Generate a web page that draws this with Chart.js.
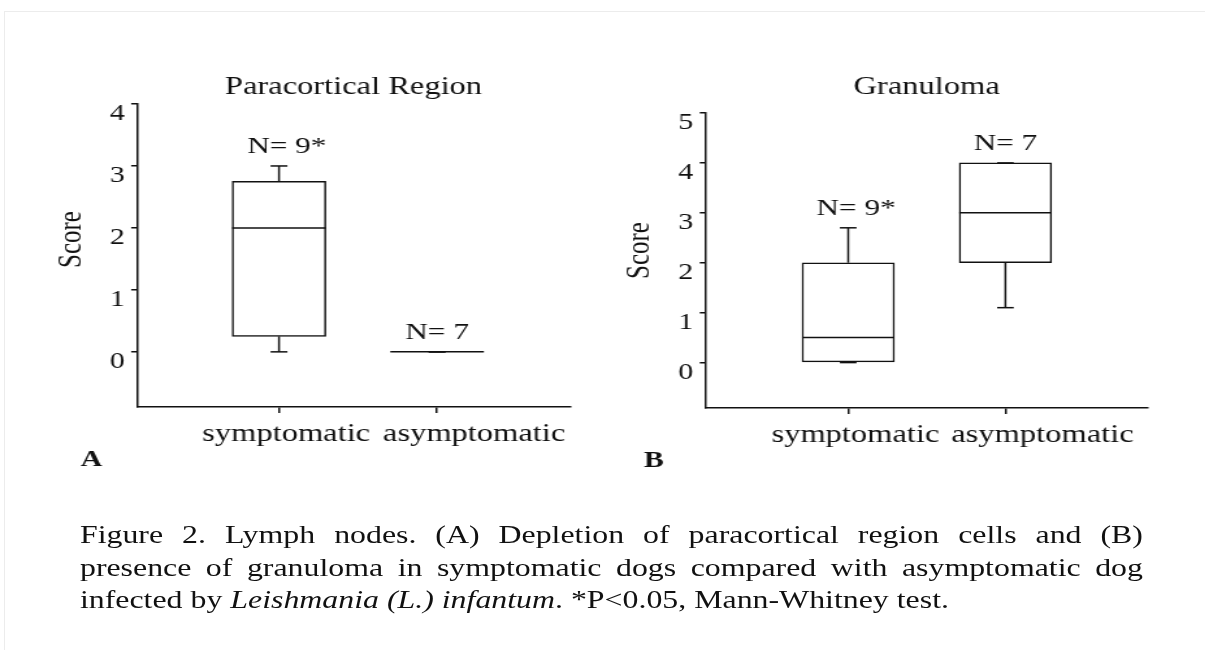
<!DOCTYPE html>
<html>
<head>
<meta charset="utf-8">
<title>Figure 2 - Lymph nodes</title>
<script src="https://cdn.jsdelivr.net/npm/chart.js@4.4.1/dist/chart.umd.min.js"></script>
<style>
  html, body { margin: 0; padding: 0; background: #fff; overflow: hidden; }
  .cadre { position: absolute; left: 4px; top: 11px; right: 0; bottom: 0; border-top: 1px solid #ececec; border-left: 1px solid #ececec; }
  /* the original figure is stretched horizontally, so the whole thing is drawn narrow then widened */
  .figure { position: absolute; left: 0; top: 0; width: 920px; height: 650px; transform: scaleX(1.3); transform-origin: 0 0; }
  .figure canvas { position: absolute; top: 0; }
  #panelA { left: 0; }
  #panelB { left: 480px; }
  .legende { position: absolute; left: 61.5px; top: 519px; width: 817.7px; font-family: 'Liberation Serif', 'Times New Roman', serif; font-size: 24.5px; line-height: 32.5px; color: #111; }
  .legende .just { text-align: justify; text-align-last: justify; }
</style>
</head>
<body>
<div class="cadre"></div>
<div class="figure">
  <canvas id="panelA" width="480" height="500"></canvas>
  <canvas id="panelB" width="440" height="500"></canvas>
  <div class="legende">
    <div class="just">Figure 2. Lymph nodes. (A) Depletion of paracortical region cells and (B)</div>
    <div class="just">presence of granuloma in symptomatic dogs compared with asymptomatic dog</div>
    <div>infected by <i>Leishmania (L.) infantum</i>. *P&lt;0.05, Mann-Whitney test.</div>
  </div>
</div>

<script>
const INK = '#111';
const SERIF = "'Liberation Serif', 'Times New Roman', serif";

// groups
const categories = ['symptomatic', 'asymptomatic'];
const groupN = [9, 7];
const significant = [true, false];

// (A) paracortical region score
const paraMin = [0, 0];
const paraQ1 = [0.25, 0];
const paraMedian = [2, 0];
const paraQ3 = [2.75, 0];
const paraMax = [3, 0];
const paraTicks = [0, 1, 2, 3, 4];

// (B) granuloma score
const granMin = [0, 1.1];
const granQ1 = [0, 2];
const granMedian = [0.5, 3];
const granQ3 = [2, 4];
const granMax = [2.7, 4];
const granTicks = [0, 1, 2, 3, 4, 5];

// the category labels sit a bit right of their tick in the original
const LABEL_SHIFT = [5.5, 28.5];

function segment(ctx, x1, y1, x2, y2) {
    ctx.beginPath();
    ctx.moveTo(x1, y1);
    ctx.lineTo(x2, y2);
    ctx.stroke();
}

/**
 * Whiskers, medians and the texts around the plot (N, groups, Score, letter)
 */
function boxExtras(panel) {
    return {
        id: 'boxExtras',
        afterDatasetsDraw(chart) {
            const ctx = chart.ctx;
            const ys = chart.scales.y;
            const bars = chart.getDatasetMeta(0).data;
            ctx.save();
            ctx.strokeStyle = INK;
            ctx.lineWidth = 1.5;
            bars.forEach((bar, i) => {
                const half = bar.width / 2;
                const cap = bar.width * 0.09;
                const yMed = ys.getPixelForValue(panel.median[i]);
                const yQ1 = ys.getPixelForValue(panel.q1[i]);
                const yQ3 = ys.getPixelForValue(panel.q3[i]);
                const yMin = ys.getPixelForValue(panel.min[i]);
                const yMax = ys.getPixelForValue(panel.max[i]);
                segment(ctx, bar.x - half, yMed, bar.x + half, yMed);
                if (panel.max[i] > panel.q3[i]) {
                    segment(ctx, bar.x, yQ3, bar.x, yMax);
                }
                if (panel.min[i] < panel.q1[i]) {
                    segment(ctx, bar.x, yQ1, bar.x, yMin);
                }
                segment(ctx, bar.x - cap, yMax, bar.x + cap, yMax);
                segment(ctx, bar.x - cap, yMin, bar.x + cap, yMin);
            });
            ctx.restore();
        },
        afterDraw(chart) {
            const {ctx, chartArea} = chart;
            const xs = chart.scales.x;
            const ys = chart.scales.y;
            const bars = chart.getDatasetMeta(0).data;
            ctx.save();
            ctx.fillStyle = INK;
            ctx.textBaseline = 'alphabetic';

            // N= labels, centred without the star
            ctx.font = `24px ${SERIF}`;
            ctx.textAlign = 'left';
            bars.forEach((bar, i) => {
                const base = 'N= ' + groupN[i];
                const left = bar.x - ctx.measureText(base).width / 2;
                ctx.fillText(base + (significant[i] ? '*' : ''), left, ys.getPixelForValue(panel.max[i]) - 13);
            });

            // group names under the axis
            ctx.font = `25px ${SERIF}`;
            ctx.textAlign = 'center';
            categories.forEach((name, i) => {
                ctx.fillText(name, xs.getPixelForValue(i + 1) + LABEL_SHIFT[i], chartArea.bottom + 34);
            });

            // panel letter
            ctx.font = `bold 23px ${SERIF}`;
            ctx.fillText(panel.letter, chartArea.left + panel.letterDx, chartArea.bottom + 59);

            // y title
            ctx.font = `25px ${SERIF}`;
            ctx.translate(chartArea.left - 50, (chartArea.top + chartArea.bottom) / 2 + panel.scoreDy);
            ctx.rotate(-Math.PI / 2);
            ctx.textBaseline = 'middle';
            ctx.fillText('Score', 0, 0);
            ctx.restore();
        }
    };
}

function boxplotPanel(canvasId, panel) {
    const positions = categories.map((c, i) => i + 1);
    const boxes = positions.map((x, i) => ({x: x, y: [panel.q1[i], panel.q3[i]]}));

    return new Chart(document.getElementById(canvasId), {
        type: 'bar',
        data: {
            datasets: [{
                data: boxes,
                backgroundColor: '#fff',
                borderColor: INK,
                borderWidth: 1.5,
                borderSkipped: false,
                barThickness: panel.boxWidth
            }]
        },
        plugins: [boxExtras(panel)],
        options: {
            responsive: false,
            animation: false,
            events: [],
            layout: {padding: panel.padding},
            scales: {
                x: {
                    type: 'linear',
                    offset: false,
                    min: panel.xMin,
                    max: panel.xMax,
                    afterBuildTicks: (scale) => {
                        scale.ticks = positions.map(v => ({value: v}));
                    },
                    afterFit: (scale) => {
                        scale.height = 50;
                    },
                    ticks: {display: false},
                    grid: {offset: false, drawOnChartArea: false, tickLength: 6, color: INK, lineWidth: 1.5},
                    border: {display: true, color: INK, width: 1.5}
                },
                y: {
                    type: 'linear',
                    min: panel.yMin,
                    max: panel.yMax,
                    afterBuildTicks: (scale) => {
                        scale.ticks = panel.yTicks.map(v => ({value: v}));
                    },
                    afterFit: (scale) => {
                        scale.width = 40;
                    },
                    ticks: {color: INK, font: {family: SERIF, size: 23}, padding: 5, labelOffset: 10},
                    grid: {drawOnChartArea: false, tickLength: 4.5, color: INK, lineWidth: 1.5},
                    border: {display: true, color: INK, width: 1.5}
                }
            },
            plugins: {
                legend: {display: false},
                tooltip: {enabled: false},
                title: {
                    display: true,
                    text: panel.title,
                    fullSize: false,
                    color: INK,
                    font: {family: SERIF, size: 25, weight: 'normal', lineHeight: 1.2},
                    padding: {top: 72, bottom: panel.titleGap}
                }
            }
        }
    });
}

boxplotPanel('panelA', {
    title: 'Paracortical Region',
    letter: 'A',
    min: paraMin, q1: paraQ1, median: paraMedian, q3: paraQ3, max: paraMax,
    yTicks: paraTicks,
    yMin: -0.89, yMax: 4,
    xMin: 0.102, xMax: 2.841,
    boxWidth: 72,
    titleGap: 2,
    scoreDy: -16,
    letterDx: -35,
    padding: {left: 65.4, right: 41.5, top: 0, bottom: 43}
});

boxplotPanel('panelB', {
    title: 'Granuloma',
    letter: 'B',
    min: granMin, q1: granQ1, median: granMedian, q3: granQ3, max: granMax,
    yTicks: granTicks,
    yMin: -0.91, yMax: 5,
    xMin: 0.093, xMax: 2.904,
    boxWidth: 71,
    titleGap: 11,
    scoreDy: -10,
    letterDx: -40,
    padding: {left: 22.8, right: 37.3, top: 0, bottom: 42}
});
</script>
</body>
</html>
